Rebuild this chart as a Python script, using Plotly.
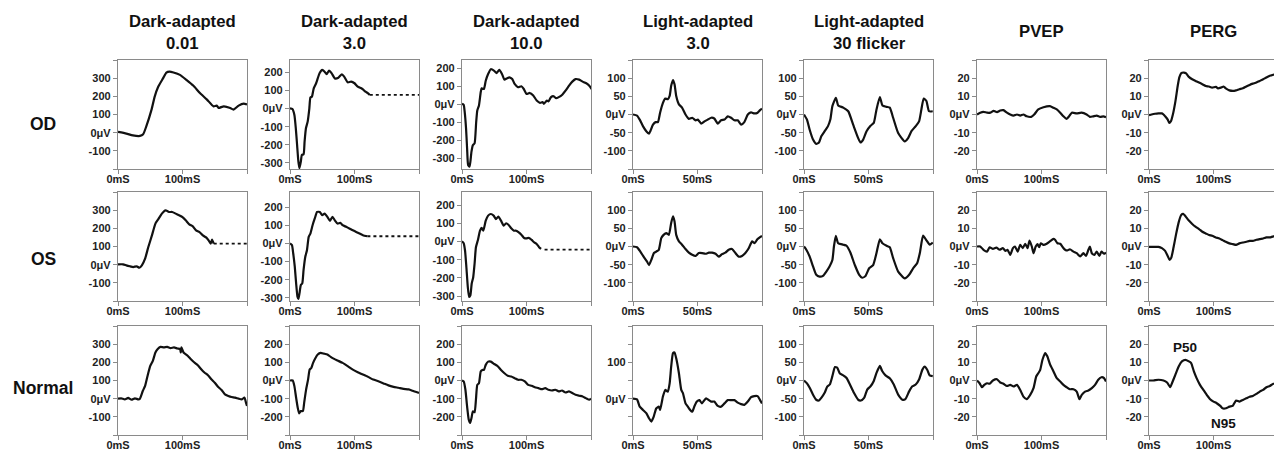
import plotly.graph_objects as go

# ---------------- data (time in ms, amplitude in µV) ----------------
col_titles = ["Dark-adapted<br>0.01", "Dark-adapted<br>3.0", "Dark-adapted<br>10.0",
              "Light-adapted<br>3.0", "Light-adapted<br>30 flicker", "PVEP", "PERG"]
row_labels = ["OD", "OS", "Normal"]

# Row OD
t_da001_od = [0, 13, 23, 34, 39, 44, 52, 57, 62, 70, 75, 80, 86, 96, 106, 117, 127, 138, 148, 153, 156, 164, 174, 179, 187, 195, 200]
v_da001_od = [4, -5, -15, -18, -9, 36, 127, 200, 250, 300, 331, 336, 331, 318, 291, 258, 218, 182, 145, 149, 136, 145, 136, 127, 149, 160, 155]
t_da3_od = [0, 3.7, 6.8, 9, 11, 13, 14.7, 16.8, 18.4, 21, 22.6, 24.7, 27.4, 30, 31.6, 34, 36.8, 40.5, 43, 45.8, 50, 53.7, 56.8, 60.5, 64.7, 69.5, 75, 80.5, 84, 89.5, 94.7, 100, 105, 110.5, 113, 117, 121, 123.7]
v_da3_od = [2, -2, -35, -109, -202, -294, -331, -294, -257, -254, -183, -109, -72, 2, 61, 67, 113, 141, 168, 196, 215, 205, 191, 211, 196, 168, 172, 191, 178, 146, 150, 141, 122, 113, 107, 94, 85, 76]
t_da3_od_ext = [123.7, 200]
v_da3_od_ext = [76, 76]
t_da10_od = [0, 2.6, 4.2, 6.3, 7.9, 9.5, 11.6, 13, 14.7, 16.8, 19.5, 22, 23.7, 26.3, 29, 30.5, 34, 36.8, 40.5, 44.7, 50, 53.7, 57.9, 62, 65.8, 69.5, 73.7, 77.9, 81.6, 86.8, 92, 95.8, 100, 105, 110.5, 115.8, 121, 125, 127, 131.6, 134, 138, 142, 146, 150, 155, 160.5, 166, 171, 176, 181.6, 187, 192, 197, 201]
v_da10_od = [2, -4, -44, -136, -246, -338, -347, -319, -264, -228, -218, -99, -35, -7, 66, 88, 84, 130, 167, 194, 185, 172, 191, 167, 136, 143, 149, 139, 112, 94, 99, 84, 57, 62, 48, 20, 7, 11, 2, 20, 15, 39, 44, 33, 39, 51, 75, 103, 125, 139, 136, 125, 117, 103, 84]
t_la3_od = [0, 3.1, 5.2, 7.7, 10.3, 12.4, 13.4, 15.5, 17.5, 19.3, 21, 23.2, 25, 27, 28.4, 29.6, 31, 32.2, 33.5, 35.6, 38, 40.7, 43.3, 45.9, 48.5, 50.3, 52.8, 55.4, 58, 60.6, 63, 65.7, 68.3, 70.9, 73.5, 76, 78.6, 81.2, 83.8, 86.3, 89, 91.5, 94, 96.6, 98.5, 100]
v_la3_od = [0, -3, -14, -32, -46, -53, -46, -28, -21, -21, 5, 32, 44, 42, 51, 79, 95, 83, 51, 28, 19, 0, -12, -9, -16, -14, -25, -19, -14, -9, -11, -25, -16, -14, -5, -9, -16, -16, -28, -21, 0, 6, 3, 5, 12, 16]
t_la30_od = [0, 2.3, 4.4, 7, 9.5, 11.6, 13.4, 16, 18.6, 20.4, 22, 24.7, 26.5, 30.4, 34.3, 38.1, 42, 43.8, 45.9, 48.5, 51.6, 54.1, 56.2, 58.8, 60.8, 64, 66.5, 69.1, 73, 78.1, 80.7, 83.3, 86.6, 89.2, 91, 92.8, 94.9, 96.9, 99.8]
v_la30_od = [0, -14, -42, -69, -81, -77, -60, -46, -32, -14, 23, 46, 25, 19, 9, -28, -65, -77, -69, -46, -31, -23, 14, 48, 25, 21, 19, -9, -51, -74, -65, -46, -32, -19, 14, 44, 37, 9, 9]
t_pvep_od = [0, 5, 10, 15.5, 20.6, 25.8, 31, 36, 41, 46.4, 51.5, 56.7, 62, 67, 72, 77, 84, 88.7, 95, 103, 113, 118.5, 123.7, 129, 134, 139, 142.8, 147, 154.6, 162, 170, 175, 180, 185.6, 191, 196, 200]
v_pvep_od = [0, 1, 1.5, 1, 1, 2, 1.3, 2.2, 2.4, 1, 0, -0.6, 0, -0.6, 0, -1, -1.3, 0, 2.8, 4, 4.6, 3.7, 2.8, 1, -1, -2.4, -1, 1, 0.6, 1, 0, -1.3, -1, -0.6, -1.3, -1, -1.5]
t_perg_od = [0, 4, 9.4, 14.7, 20, 22.5, 25, 29, 31.4, 34, 37, 41, 44.5, 47, 50, 54, 57.6, 61.8, 67, 72, 77.5, 82.7, 88, 93, 98, 103.7, 107, 111.5, 115.7, 119, 124.6, 130, 135, 140, 145.5, 150.8, 156, 161, 166.5, 171.7, 177, 182, 187.4, 192.7, 196, 200]
v_perg_od = [-0.4, 0, 0.4, 0.6, 0.6, 0, -1, -2.8, -4.6, -3.7, 0, 7.4, 15.7, 20.4, 22.8, 23.1, 22.6, 20.7, 19.4, 18.5, 17.6, 16.7, 15.7, 15.4, 14.8, 15.2, 14.4, 14.8, 15.4, 14.4, 13.3, 13, 13.3, 13.9, 14.4, 15.4, 16.3, 17, 17.6, 18.5, 19.4, 20.4, 21.3, 21.9, 22.2, 22.6]

# Row OS
t_da001_os = [0, 7.9, 13, 18.4, 23.7, 29, 33, 37, 42, 47, 52.6, 58, 63, 68, 73.7, 79, 84, 89.5, 94.7, 100, 105, 110.5, 116, 121, 126, 131.6, 137, 140.5, 143.7, 145.8, 148.4]
v_da001_os = [2, 2, -4, -9, -13, -9, -17, -4, 33, 97, 161, 226, 253, 281, 299, 290, 290, 281, 272, 262, 244, 222, 211, 189, 180, 161, 149, 134, 116, 138, 116]
t_da001_os_ext = [148.4, 200]
v_da001_os_ext = [116, 116]
t_da3_os = [0, 3, 5, 7.4, 9.5, 11.6, 13, 14.7, 16.8, 19, 21, 23.7, 26.3, 29, 31.6, 35, 38.4, 42, 46.3, 50, 53.7, 58, 62, 65.8, 69.5, 73.7, 77.9, 81.6, 87, 92, 97.4, 102.6, 108, 113, 120]
v_da3_os = [0, -9, -55, -128, -220, -294, -306, -275, -229, -220, -147, -73, -37, 37, 55, 101, 138, 174, 174, 156, 165, 147, 125, 147, 128, 110, 114, 101, 92, 83, 73, 64, 55, 46, 40]
t_da3_os_ext = [120, 200]
v_da3_os_ext = [40, 40]
t_da10_os = [0, 2.6, 4.7, 6.8, 9, 11, 13, 15, 17.4, 19.5, 21.6, 24.7, 27.9, 30.5, 33, 36.8, 40.5, 44.7, 49, 52.6, 56.3, 60.5, 64.7, 68.4, 72, 76.3, 80.5, 84, 88, 92, 96.3, 100, 104, 108, 112, 115.8, 119.5, 122.6]
v_da10_os = [2, -9, -49, -141, -250, -305, -296, -232, -196, -122, -31, 9, 60, 75, 60, 115, 143, 152, 143, 124, 137, 115, 88, 101, 93, 73, 60, 60, 51, 38, 20, 18, 20, 9, -4, -13, -31, -40]
t_da10_os_ext = [128, 200]
v_da10_os_ext = [-44, -44]
t_la3_os = [0, 3.1, 5.7, 8.2, 10.8, 12.4, 14.2, 16.2, 18, 20, 21.9, 23.7, 25.8, 27.8, 29.6, 31, 32.2, 33.5, 35.6, 38, 40.7, 43.3, 45.9, 48.5, 51, 53.6, 56.2, 58.8, 61.3, 64, 66.5, 69, 71.6, 74.2, 76.8, 79.4, 82, 84.5, 87.1, 89.7, 92.3, 94.3, 96.4, 98.5, 100]
v_la3_os = [0, -2, -14, -28, -41, -51, -37, -18, -14, -9, 23, 32, 37, 32, 65, 83, 69, 32, 14, 5, -7, -17, -23, -26, -18, -18, -20, -17, -17, -20, -28, -21, -17, -9, -7, -18, -28, -26, -18, -5, 14, 9, 20, 26, 29]
t_la30_os = [0, 1.8, 4.4, 7, 9.5, 12.1, 14.7, 17.3, 19.8, 22, 23.2, 24.7, 26.5, 30.4, 33, 36.1, 39.4, 42.8, 45.1, 47.7, 50.5, 53.6, 56.2, 58.8, 60.8, 64, 66.5, 69.1, 73, 78.1, 81.5, 84.6, 87.7, 89.8, 92.3, 94.9, 97.5, 99.8]
v_la30_os = [0, -9, -28, -55, -78, -83, -81, -69, -55, -37, 0, 29, 9, 5, 2, -18, -51, -78, -86, -81, -60, -51, -18, 20, 9, 2, -2, -32, -69, -88, -78, -60, -46, -18, 30, 17, 5, 11]
t_pvep_os = [0, 5, 10, 15.5, 19.6, 24.7, 30, 35, 40, 44, 47.4, 51.5, 55.7, 59, 63, 67, 71, 74.7, 78.4, 81.4, 85, 87.6, 91, 93.8, 96.4, 99, 103, 108, 113, 118.6, 121, 124.7, 129, 133, 136.6, 140, 144, 149.5, 154.6, 160, 165, 169, 172.7, 175, 178, 182, 185.6, 189.7, 193, 197, 200]
v_pvep_os = [0, 0, -1.8, -2.8, -0.4, -1.3, -0.6, -1.8, -0.9, -2.4, -1.8, -4.6, -0.9, 0, -2.8, 0.9, -0.9, 1.5, -0.9, 3.3, 0, -3.7, 0, 1.3, -0.4, 1.8, 0.9, 1.5, 2.8, 4.2, 3.7, 1.8, 1.5, -0.4, -1.8, -2.2, -1.5, -2.8, -3.7, -5.5, -3.7, -5.2, -1.8, 0, -3.7, -4.6, -2.8, -5.2, -2.8, -4, -3.3]
t_perg_os = [0, 6.8, 14.7, 20, 25, 29, 32, 34.6, 38, 42, 46, 50, 53, 56.5, 61.8, 67, 72, 77.5, 82.7, 88, 93, 98, 103.7, 109, 114, 119, 124.6, 130, 135, 140, 145.5, 150.8, 156, 161, 166.5, 171.7, 177, 182, 187.4, 192.7, 196, 200]
v_perg_os = [-0.2, -0.2, -0.2, -0.9, -2.4, -5.2, -7.4, -6.1, -0.6, 6.8, 13.3, 17.4, 18, 16.7, 14.3, 12.4, 10.9, 9.6, 8.1, 7.2, 6.3, 5.9, 5, 4.4, 3.5, 2.6, 1.7, 1.3, 0.9, 1.7, 2.2, 2.6, 3.1, 3.1, 3.7, 4.1, 4.4, 5, 5, 5.6, 5.6, 5.8]

# Row Normal
t_da001_n = [0, 5, 10.5, 15.8, 21, 26.3, 31.6, 34, 38.4, 42, 45.8, 50, 54, 58, 61.6, 65.8, 71, 76.3, 81.6, 86.8, 92, 96.3, 97.4, 98.4, 101.6, 108, 113, 118.4, 123.7, 129, 134, 139.5, 144.7, 150, 155, 160.5, 165.8, 171, 176, 181.6, 187, 192, 196, 198.4, 200]
v_da001_n = [0, 2, -4, 4, -6, 2, -4, 0, 42, 70, 125, 180, 208, 254, 273, 285, 282, 285, 278, 282, 276, 273, 254, 282, 254, 236, 217, 199, 184, 162, 144, 129, 107, 88, 66, 48, 24, 15, 9, 6, 0, -4, 6, -22, -40]
t_da3_n = [0, 4.2, 6.8, 9.5, 12, 14.2, 16.8, 20, 22, 25, 28, 30.5, 33, 35.8, 39.5, 43, 47.4, 52.6, 58, 63, 68.4, 73.7, 81.6, 89.5, 97.4, 105, 113, 121, 129, 137, 145, 152.6, 160.5, 168, 176, 184, 192, 200]
v_da3_n = [0, 0, -31, -95, -150, -181, -168, -168, -122, -49, 5, 60, 69, 97, 124, 143, 152, 148, 143, 130, 119, 110, 97, 79, 60, 46, 33, 20, 5, -4, -16, -27, -35, -40, -46, -49, -59, -68]
t_da10_n = [0, 2.6, 5.3, 7.9, 10.5, 12.6, 14.7, 16.8, 19.5, 21.6, 23.7, 26.3, 29, 31.6, 34, 36.8, 40.5, 44.7, 50, 55, 60.5, 65.8, 71, 76.3, 81.6, 86.8, 92, 97.4, 102.6, 108, 113, 118.4, 123.7, 129, 134, 139.5, 144.7, 150, 155, 160.5, 165.8, 171, 176, 181.6, 187, 192, 197.4, 200]
v_da10_n = [0, -5, -51, -143, -216, -234, -207, -170, -175, -106, -24, -15, 49, 58, 58, 86, 104, 104, 91, 80, 58, 40, 26, 22, 13, 4, 4, -5, -24, -29, -37, -42, -48, -42, -51, -55, -51, -60, -55, -66, -60, -69, -79, -84, -88, -97, -106, -100]
t_la3_n = [0, 3.1, 5.2, 7.7, 10.3, 12.4, 14.2, 16, 18, 20, 21, 23.2, 25, 27, 28.4, 29.6, 31, 32.2, 33.5, 35.6, 37.4, 38.7, 40.7, 42.5, 44.3, 45.9, 47.7, 49.5, 51.5, 53.4, 55.4, 56.7, 58.8, 60.6, 63, 65.7, 68.3, 70.9, 73.5, 76, 78.6, 81.2, 83.8, 86.3, 89, 91.5, 94, 96.6, 98.5, 100]
v_la3_n = [0, -2, -22, -31, -40, -54, -63, -50, -27, -22, -31, 6, 24, 19, 42, 88, 125, 127, 111, 70, 24, 15, -13, -22, -31, -36, -20, -8, -4, -13, -4, 1, -4, -8, -8, -20, -22, -13, -4, -4, -4, -11, -15, -17, -8, 4, 7, 7, -4, -13]
t_la30_n = [0, 2.3, 4.4, 7, 9.5, 11.6, 13.4, 16, 18, 20, 22, 24, 25.8, 27.8, 30.4, 33, 35.6, 38.7, 42, 44.1, 46.6, 49, 51.6, 54, 56.2, 58.8, 60.6, 63.2, 66.5, 69.6, 73, 76.3, 78.6, 81.5, 84, 86.6, 89.2, 91.8, 93.6, 95.6, 97.4, 99.8]
v_la30_n = [0, -8, -20, -39, -53, -55, -48, -34, -17, -11, 12, 37, 35, 19, 14, 7, -11, -34, -53, -55, -48, -25, -16, -2, 21, 40, 26, 14, 6, -11, -39, -53, -51, -30, -16, -11, 3, 30, 38, 29, 14, 12]
t_pvep_n = [0, 4, 7.7, 11.3, 15.5, 19.6, 24.7, 31, 36, 41, 46.4, 51.5, 56.7, 62, 67, 72, 77, 82.5, 87.6, 91.8, 95, 98, 101.5, 105.7, 109, 113.4, 118.6, 123.7, 129, 134, 139, 144, 149.5, 154.6, 158.8, 162.4, 167.5, 172.7, 178, 183, 188, 193, 197, 200]
v_pvep_n = [0, -1.5, -3.7, -2.4, -1.5, -1.8, 0, 0.7, -1.1, -1.8, -3, -2.4, -3.3, -2.4, -5.2, -8.9, -10.3, -7.9, -4.2, 2.2, 4, 5.9, 11.4, 15.1, 13.3, 8.7, 5, 1.3, -0.6, -2.4, -3.7, -4.8, -4.8, -6.1, -10.3, -7.9, -6.1, -5.5, -4.2, -2.4, 0.4, 1.8, 1.3, -0.6]
t_perg_n = [0, 6.8, 14.7, 22.5, 28, 33, 35.6, 40.8, 46, 51, 56.5, 61.8, 65.4, 69.6, 73.8, 79, 84.3, 89.5, 94.8, 100, 105, 110.5, 114, 119.4, 124.6, 129.8, 135, 140.3, 145.5, 150.8, 156, 161, 166.5, 171.7, 177, 182, 187.4, 192.7, 196, 200]
v_perg_n = [0, 0, 0.4, 0, -1.1, -3.7, -1.5, 3.1, 7.7, 10.5, 11.4, 10.5, 9.6, 5, 1.3, -2.4, -5.2, -7.9, -10.3, -11.6, -12.5, -14, -15.3, -15.3, -14.4, -14, -11, -11.6, -10.7, -9.8, -8.9, -8.5, -7.4, -6.1, -5.2, -3.7, -3, -1.8, -1.8, -1.5]

# x ticks per column type
da_xticks = [0, 100, 200]
da_xtext = ["0mS", "100mS", ""]
la_xticks = [0, 50, 100]
la_xtext = ["0mS", "50mS", ""]

# PERG normal component labels
perg_labels = ["P50", "N95"]
perg_label_t = [56.5, 116]
perg_label_v = [17.9, -23.6]

# ---------------- layout geometry ----------------
W, H = 1274, 452
col_left = [118, 290, 462, 633, 804, 977, 1149]
col_w = 129
row_top = [60, 192, 326]
row_bot = [169, 301, 435]

panels = [
    # row, col, t, v, dotted-ext, yrange, yticks, ytext
    (0, 0, t_da001_od, v_da001_od, None, [-200, 400], [-200, -100, 0, 100, 200, 300, 400], ["", "-100", "0μV", "100", "200", "300", ""]),
    (0, 1, t_da3_od, v_da3_od, (t_da3_od_ext, v_da3_od_ext), [-335, 270], [-300, -200, -100, 0, 100, 200], ["-300", "-200", "-100", "0μV", "100", "200"]),
    (0, 2, t_da10_od, v_da10_od, None, [-360, 245], [-300, -200, -100, 0, 100, 200], ["-300", "-200", "-100", "0μV", "100", "200"]),
    (0, 3, t_la3_od, v_la3_od, None, [-150, 150], [-150, -100, -50, 0, 50, 100, 150], ["", "-100", "-50", "0μV", "50", "100", ""]),
    (0, 4, t_la30_od, v_la30_od, None, [-150, 150], [-150, -100, -50, 0, 50, 100, 150], ["", "-100", "-50", "0μV", "50", "100", ""]),
    (0, 5, t_pvep_od, v_pvep_od, None, [-30, 30], [-30, -20, -10, 0, 10, 20, 30], ["", "-20", "-10", "0μV", "10", "20", ""]),
    (0, 6, t_perg_od, v_perg_od, None, [-30, 30], [-30, -20, -10, 0, 10, 20, 30], ["", "-20", "-10", "0μV", "10", "20", ""]),
    (1, 0, t_da001_os, v_da001_os, (t_da001_os_ext, v_da001_os_ext), [-200, 400], [-200, -100, 0, 100, 200, 300, 400], ["", "-100", "0μV", "100", "200", "300", ""]),
    (1, 1, t_da3_os, v_da3_os, (t_da3_os_ext, v_da3_os_ext), [-317, 284], [-300, -200, -100, 0, 100, 200], ["-300", "-200", "-100", "0μV", "100", "200"]),
    (1, 2, t_da10_os, v_da10_os, (t_da10_os_ext, v_da10_os_ext), [-327, 273], [-300, -200, -100, 0, 100, 200], ["-300", "-200", "-100", "0μV", "100", "200"]),
    (1, 3, t_la3_os, v_la3_os, None, [-150, 150], [-150, -100, -50, 0, 50, 100, 150], ["", "-100", "-50", "0μV", "50", "100", ""]),
    (1, 4, t_la30_os, v_la30_os, None, [-150, 150], [-150, -100, -50, 0, 50, 100, 150], ["", "-100", "-50", "0μV", "50", "100", ""]),
    (1, 5, t_pvep_os, v_pvep_os, None, [-30, 30], [-30, -20, -10, 0, 10, 20, 30], ["", "-20", "-10", "0μV", "10", "20", ""]),
    (1, 6, t_perg_os, v_perg_os, None, [-30, 30], [-30, -20, -10, 0, 10, 20, 30], ["", "-20", "-10", "0μV", "10", "20", ""]),
    (2, 0, t_da001_n, v_da001_n, None, [-200, 400], [-200, -100, 0, 100, 200, 300, 400], ["", "-100", "0μV", "100", "200", "300", ""]),
    (2, 1, t_da3_n, v_da3_n, None, [-300, 300], [-300, -200, -100, 0, 100, 200, 300], ["", "-200", "-100", "0μV", "100", "200", ""]),
    (2, 2, t_da10_n, v_da10_n, None, [-300, 300], [-300, -200, -100, 0, 100, 200, 300], ["", "-200", "-100", "0μV", "100", "200", ""]),
    (2, 3, t_la3_n, v_la3_n, None, [-100, 200], [-100, -50, 0, 50, 100, 150, 200], ["", "", "0μV", "", "100", "", ""]),
    (2, 4, t_la30_n, v_la30_n, None, [-150, 150], [-150, -100, -50, 0, 50, 100, 150], ["", "-100", "-50", "0μV", "50", "100", ""]),
    (2, 5, t_pvep_n, v_pvep_n, None, [-30, 30], [-30, -20, -10, 0, 10, 20, 30], ["", "-20", "-10", "0μV", "10", "20", ""]),
    (2, 6, t_perg_n, v_perg_n, None, [-30, 30], [-30, -20, -10, 0, 10, 20, 30], ["", "-20", "-10", "0μV", "10", "20", ""]),
]

FONT = "Liberation Sans, Arial, Helvetica, sans-serif"
AXIS_COLOR = "#8a8a8a"
tickfont = dict(family=FONT, size=11, color="#222222", weight="bold")

fig = go.Figure()
layout = {}
for i, (r, c, t, v, ext, yr, yt, ytt) in enumerate(panels):
    n = i + 1
    xa = "xaxis" if n == 1 else f"xaxis{n}"
    ya = "yaxis" if n == 1 else f"yaxis{n}"
    xref = "x" if n == 1 else f"x{n}"
    yref = "y" if n == 1 else f"y{n}"
    left = col_left[c]
    right = min(left + col_w, W)
    is_la = c in (3, 4)
    xmax_full = 100 if is_la else 200
    xmax = xmax_full * (right - left) / col_w
    top = row_top[r]
    bot = row_bot[r]
    layout[xa] = dict(
        domain=[left / W, right / W], anchor=yref, range=[0, xmax],
        tickvals=la_xticks if is_la else da_xticks,
        ticktext=la_xtext if is_la else da_xtext,
        showline=True, linecolor=AXIS_COLOR, linewidth=1.3, mirror=True,
        ticks="outside", ticklen=4, tickwidth=1.2, tickcolor=AXIS_COLOR,
        showgrid=False, zeroline=False, tickfont=tickfont, fixedrange=True,
        automargin=False, ticklabelstandoff=-4,
    )
    layout[ya] = dict(
        domain=[1 - bot / H, 1 - top / H], anchor=xref, range=yr,
        tickvals=yt, ticktext=ytt,
        showline=True, linecolor=AXIS_COLOR, linewidth=1.3, mirror=(c != 6),
        ticks="outside", ticklen=4, tickwidth=1.2, tickcolor=AXIS_COLOR,
        showgrid=False, zeroline=False, tickfont=tickfont, fixedrange=True,
        automargin=False,
    )
    fig.add_trace(go.Scatter(x=t, y=v, xaxis=xref, yaxis=yref, mode="lines",
                             line=dict(color="#111111", width=2.2, shape="spline", smoothing=0.5),
                             showlegend=False, hoverinfo="skip"))
    if ext is not None:
        fig.add_trace(go.Scatter(x=ext[0], y=ext[1], xaxis=xref, yaxis=yref, mode="lines",
                                 line=dict(color="#111111", width=1.8, dash="dot"),
                                 showlegend=False, hoverinfo="skip"))

annotations = []
for c, title in enumerate(col_titles):
    two_line = "<br>" in title
    annotations.append(dict(
        text=f"<b>{title}</b>", x=(col_left[c] + col_w / 2) / W,
        y=1 - (32 if two_line else 31) / H,
        xref="paper", yref="paper", xanchor="center", yanchor="middle",
        showarrow=False, font=dict(family=FONT, size=16.7, color="#111111")))
row_label_y = [124, 259, 388]
for r, lab in enumerate(row_labels):
    annotations.append(dict(
        text=f"<b>{lab}</b>", x=43 / W, y=1 - row_label_y[r] / H,
        xref="paper", yref="paper", xanchor="center", yanchor="middle",
        showarrow=False, font=dict(family=FONT, size=17.5, color="#111111")))

for lab, tx, vy in zip(perg_labels, perg_label_t, perg_label_v):
    annotations.append(dict(
        text=f"<b>{lab}</b>", x=tx, y=vy, xref="x21", yref="y21",
        xanchor="center", yanchor="middle", showarrow=False,
        font=dict(family=FONT, size=13.5, color="#111111")))

fig.update_layout(
    width=W, height=H, margin=dict(l=0, r=0, t=0, b=0, autoexpand=False),
    paper_bgcolor="white", plot_bgcolor="white",
    annotations=annotations, showlegend=False, **layout)

fig.write_html("out.html", config={"displayModeBar": False},
               post_script="document.body.style.margin='0px';document.body.style.padding='0px';document.body.style.overflow='hidden';")
